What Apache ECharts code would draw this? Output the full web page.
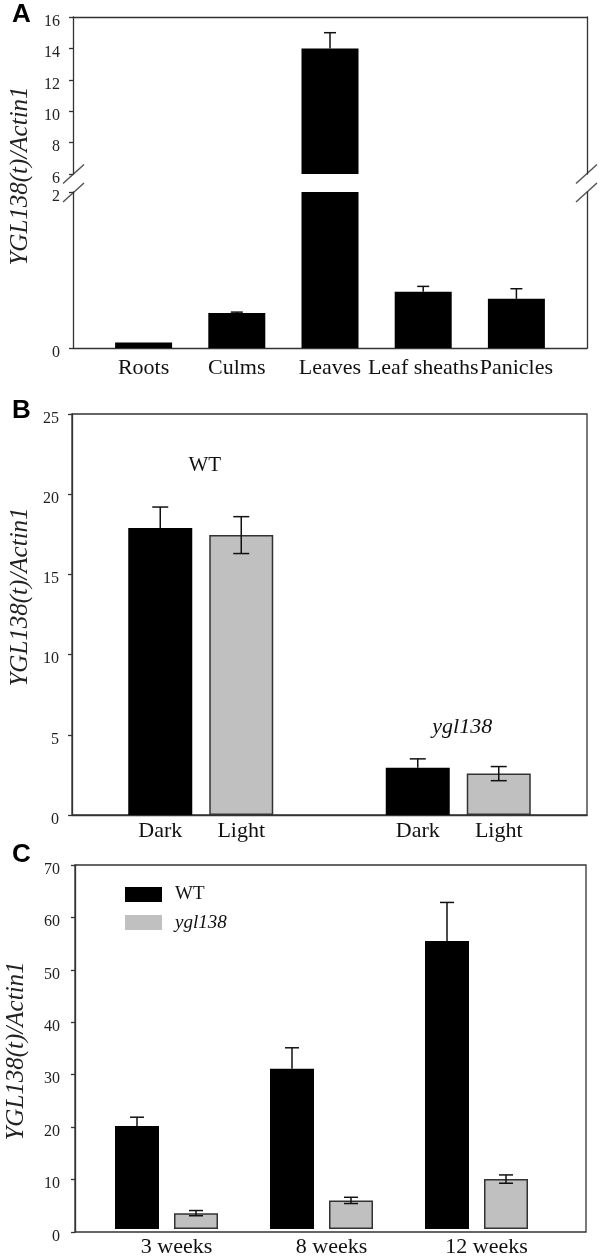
<!DOCTYPE html>
<html><head><meta charset="utf-8">
<script src="https://cdn.jsdelivr.net/npm/echarts@6/dist/echarts.min.js"></script>
<style>html,body{margin:0;padding:0;background:#fff}#c{width:600px;height:1258px}</style>
</head><body><div id="c"></div>
<script>
// ---------- DATA ----------
// Panel A
const tissues = ['Roots', 'Culms', 'Leaves', 'Leaf sheaths', 'Panicles'];
const tissueMean = [0.07, 0.45, 14.0, 0.72, 0.63];
const tissueErr = [0.0, 0.01, 1.0, 0.07, 0.13];
const aUpperAxis = [6, 16, 2];   // min, max, interval (upper segment)
const aLowerAxis = [0, 2, 2];    // min, max, interval (lower segment)
// Panel B
const bGroups = ['WT', 'ygl138'];
const bDark = [17.9, 2.95];
const bDarkErr = [1.3, 0.55];
const bLight = [17.45, 2.58];
const bLightErr = [1.15, 0.44];
const bAxis = [0, 25, 5];
// Panel C
const cWeeks = ['3 weeks', '8 weeks', '12 weeks'];
const cWT = [19.8, 30.8, 55.4];
const cWTErr = [1.7, 4.05, 7.4];
const cYgl = [3.05, 5.5, 9.6];
const cYglErr = [0.5, 0.6, 0.8];
const cAxis = [0, 70, 10];

// ---------- STYLE ----------
const SERIF = '"Liberation Serif", "DejaVu Serif", serif';
const LINE = '#333';
const GRAY = '#c0c0c0';
const tickLabel = { fontFamily: SERIF, fontSize: 16, color: '#222', margin: 13,
  formatter: '{t|{value}}', rich: { t: { fontFamily: SERIF, fontSize: 16, color: '#222', padding: [9, 0, 0, 0] } } };
const catLabel = { fontFamily: SERIF, fontSize: 22, color: '#111' };

function valAxis(grid, range, opts) {
  return Object.assign({
    type: 'value', gridIndex: grid, min: range[0], max: range[1], interval: range[2],
    splitLine: { show: false },
    axisLine: { show: true, onZero: false, lineStyle: { color: LINE, width: 1.3 } },
    axisTick: { show: true, length: 4, lineStyle: { color: LINE, width: 1.3 } },
    axisLabel: tickLabel
  }, opts || {});
}
function lineOnlyY(grid, range, pos) {
  return { type: 'value', gridIndex: grid, position: pos, min: range[0], max: range[1],
    splitLine: { show: false }, axisTick: { show: false }, axisLabel: { show: false },
    axisLine: { show: true, onZero: false, lineStyle: { color: LINE, width: 1.3 } } };
}
function lineOnlyX(grid, pos) {
  return { type: 'value', gridIndex: grid, position: pos, min: 0, max: 1,
    splitLine: { show: false }, axisTick: { show: false }, axisLabel: { show: false },
    axisLine: { show: true, onZero: false, lineStyle: { color: LINE, width: 1.3 } } };
}
function hiddenY(grid, range) {
  return { type: 'value', gridIndex: grid, min: range[0], max: range[1], show: false, splitLine: { show: false } };
}

// error bars; `both` draws the lower whisker too (visible on grey bars)
function errSeries(xIdx, yIdx, means, errs, offset, cap, both) {
  return {
    type: 'custom', xAxisIndex: xIdx, yAxisIndex: yIdx, silent: true, z: 5,
    data: means.map((m, i) => [i, m, errs[i]]),
    renderItem(params, api) {
      const i = api.value(0), m = api.value(1), e = api.value(2);
      const cs = params.coordSys;
      const top = api.coord([i, m + e]);
      const bot = api.coord([i, both ? m - e : m]);
      const x = top[0] + offset;
      const ymin = cs.y, ymax = cs.y + cs.height;
      if (bot[1] < ymin || top[1] > ymax || e <= 0) return null;
      const y1 = Math.max(top[1], ymin), y2 = Math.min(bot[1], ymax);
      const st = { stroke: '#111', lineWidth: 1.5 };
      const ch = [{ type: 'line', shape: { x1: x, y1: y1, x2: x, y2: y2 }, style: st }];
      if (top[1] >= ymin) ch.push({ type: 'line', shape: { x1: x - cap / 2, y1: top[1], x2: x + cap / 2, y2: top[1] }, style: st });
      if (both && bot[1] <= ymax) ch.push({ type: 'line', shape: { x1: x - cap / 2, y1: bot[1], x2: x + cap / 2, y2: bot[1] }, style: st });
      return { type: 'group', children: ch };
    }
  };
}

// Layout constants
const bBarW = 64, bGapPx = 17, cBarW = 44, cGapPx = 15;
const bLabelLift = [42, 32];

const option = {
  animation: false,
  backgroundColor: '#fff',
  grid: [
    { left: 73, right: 13, top: 17, height: 157 },   // 0 A upper frame
    { left: 97, right: 37, top: 17, height: 157 },   // 1 A upper inner
    { left: 73, right: 13, top: 192, height: 156 },  // 2 A lower frame
    { left: 97, right: 37, top: 192, height: 156 },  // 3 A lower inner
    { left: 72, right: 13, top: 414, height: 401, show: true, borderColor: LINE, borderWidth: 1.3 }, // 4 B
    { left: 75, right: 14, top: 865, height: 367, show: true, borderColor: LINE, borderWidth: 1.3 }, // 5 C frame
    { left: 89, right: 46, top: 865, height: 367 }   // 6 C inner
  ],
  xAxis: [
    lineOnlyX(0, 'top'),
    { type: 'category', gridIndex: 1, data: tissues, show: false },
    lineOnlyX(2, 'bottom'),
    { type: 'category', gridIndex: 3, data: tissues, axisLine: { show: false }, axisTick: { show: false },
      axisLabel: Object.assign({ margin: 9, interval: 0 }, catLabel) },
    { type: 'category', gridIndex: 4, data: bGroups, axisLine: { show: true, lineStyle: { color: LINE, width: 1.3 } },
      axisTick: { show: false }, axisLabel: { show: false } },
    { type: 'value', gridIndex: 5, show: false, min: 0, max: 1 },
    { type: 'category', gridIndex: 6, data: cWeeks, axisLine: { show: false }, axisTick: { show: false },
      axisLabel: Object.assign({ margin: 7, interval: 0, padding: [0, 0, 0, 20] }, catLabel) }
  ],
  yAxis: [
    valAxis(0, aUpperAxis),                  // 0
    lineOnlyY(0, aUpperAxis, 'right'),       // 1
    hiddenY(1, aUpperAxis),                  // 2
    valAxis(2, aLowerAxis),                  // 3
    lineOnlyY(2, aLowerAxis, 'right'),       // 4
    hiddenY(3, aLowerAxis),                  // 5
    valAxis(4, bAxis),                       // 6
    valAxis(5, cAxis, { axisLabel: Object.assign({}, tickLabel, { margin: 15 }) }), // 7
    hiddenY(6, cAxis)                        // 8
  ],
  legend: {
    data: ['WT', 'ygl138'], orient: 'vertical', left: 125, top: 885, padding: 0,
    itemWidth: 37, itemHeight: 15, itemGap: 9, icon: 'rect',
    itemStyle: { borderWidth: 0 },
    selectedMode: false,
    textStyle: { fontFamily: SERIF, fontSize: 19, color: '#111', padding: [0, 0, 0, 8],
      rich: { i: { fontFamily: SERIF, fontSize: 19, fontStyle: 'italic', color: '#111' } } },
    formatter: n => n === 'WT' ? n : '{i|' + n + '}'
  },
  series: [
    // Panel A
    { type: 'bar', name: 'A-upper', xAxisIndex: 1, yAxisIndex: 2, data: tissueMean, barWidth: 57,
      itemStyle: { color: '#000' }, clip: true, silent: true },
    { type: 'bar', name: 'A-lower', xAxisIndex: 3, yAxisIndex: 5, data: tissueMean, barWidth: 57,
      itemStyle: { color: '#000' }, clip: true, silent: true },
    errSeries(1, 2, tissueMean, tissueErr, 0, 12, false),
    errSeries(3, 5, tissueMean, tissueErr, 0, 12, false),
    // Panel B
    { type: 'bar', name: 'Dark', xAxisIndex: 4, yAxisIndex: 6, data: bDark, barWidth: bBarW,
      barGap: (bGapPx / bBarW * 100) + '%', itemStyle: { color: '#000' }, silent: true,
      label: { show: true, position: 'bottom', distance: 5, formatter: '{a}', fontFamily: SERIF, fontSize: 22, color: '#111' } },
    { type: 'bar', name: 'Light', xAxisIndex: 4, yAxisIndex: 6, data: bLight, barWidth: bBarW,
      barGap: (bGapPx / bBarW * 100) + '%', itemStyle: { color: GRAY, borderColor: '#333', borderWidth: 1.5 }, silent: true,
      label: { show: true, position: 'bottom', distance: 5, formatter: '{a}', fontFamily: SERIF, fontSize: 22, color: '#111' } },
    errSeries(4, 6, bDark, bDarkErr, -(bBarW + bGapPx) / 2, 16, false),
    errSeries(4, 6, bLight, bLightErr, (bBarW + bGapPx) / 2, 16, true),
    { type: 'custom', xAxisIndex: 4, yAxisIndex: 6, silent: true, z: 6,
      data: bGroups.map((g, i) => [i, Math.max(bDark[i] + bDarkErr[i], bLight[i] + bLightErr[i])]),
      renderItem(params, api) {
        const p = api.coord([api.value(0), api.value(1)]);
        const i = params.dataIndex;
        return { type: 'text', x: p[0] + 4, y: p[1] - bLabelLift[i],
          style: { text: bGroups[i], align: 'center', verticalAlign: 'middle', fill: '#111',
            font: (i === 0 ? 'normal 21px ' : 'italic 22px ') + SERIF } };
      } },
    // Panel C
    { type: 'bar', name: 'WT', xAxisIndex: 6, yAxisIndex: 8, data: cWT, barWidth: cBarW,
      barGap: (cGapPx / cBarW * 100) + '%', itemStyle: { color: '#000' }, silent: true },
    { type: 'bar', name: 'ygl138', xAxisIndex: 6, yAxisIndex: 8, data: cYgl, barWidth: cBarW,
      barGap: (cGapPx / cBarW * 100) + '%', itemStyle: { color: GRAY, borderColor: '#333', borderWidth: 1.5 }, silent: true },
    errSeries(6, 8, cWT, cWTErr, -(cBarW + cGapPx) / 2, 14, false),
    errSeries(6, 8, cYgl, cYglErr, (cBarW + cGapPx) / 2, 14, true)
  ],
  graphic: [
    { type: 'text', x: 12, y: 15, style: { text: 'A', font: 'bold 26px "Liberation Sans", Arial, sans-serif', fill: '#000', verticalAlign: 'middle' } },
    { type: 'text', x: 12, y: 411, style: { text: 'B', font: 'bold 26px "Liberation Sans", Arial, sans-serif', fill: '#000', verticalAlign: 'middle' } },
    { type: 'text', x: 12, y: 855, style: { text: 'C', font: 'bold 26px "Liberation Sans", Arial, sans-serif', fill: '#000', verticalAlign: 'middle' } },
    { type: 'text', x: 20, y: 176, rotation: Math.PI / 2, style: { text: 'YGL138(t)/Actin1', font: 'italic 25px ' + SERIF, fill: '#222', align: 'center', verticalAlign: 'middle' } },
    { type: 'text', x: 20, y: 597, rotation: Math.PI / 2, style: { text: 'YGL138(t)/Actin1', font: 'italic 25px ' + SERIF, fill: '#222', align: 'center', verticalAlign: 'middle' } },
    { type: 'text', x: 16, y: 1051, rotation: Math.PI / 2, style: { text: 'YGL138(t)/Actin1', font: 'italic 25px ' + SERIF, fill: '#222', align: 'center', verticalAlign: 'middle' } },
    // axis break marks
    { type: 'line', shape: { x1: 63, y1: 183.5, x2: 84, y2: 164.5 }, style: { stroke: '#555', lineWidth: 1.5 } },
    { type: 'line', shape: { x1: 63, y1: 202, x2: 84, y2: 183 }, style: { stroke: '#555', lineWidth: 1.5 } },
    { type: 'line', shape: { x1: 576, y1: 183.5, x2: 597, y2: 164.5 }, style: { stroke: '#555', lineWidth: 1.5 } },
    { type: 'line', shape: { x1: 576, y1: 202, x2: 597, y2: 183 }, style: { stroke: '#555', lineWidth: 1.5 } }
  ]
};

const chart = echarts.init(document.getElementById('c'), null, { renderer: 'canvas' });
chart.setOption(option);
</script>
</body></html>
